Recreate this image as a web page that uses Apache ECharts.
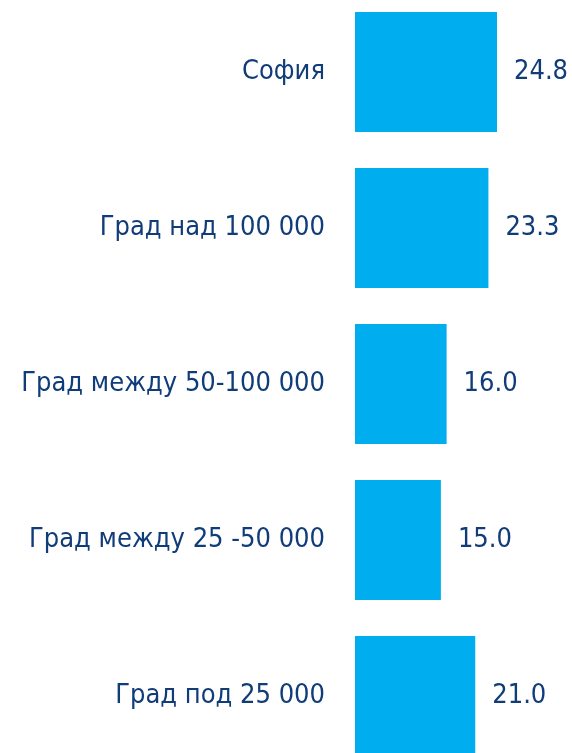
<!DOCTYPE html>
<html>
<head>
<meta charset="utf-8">
<script src="https://cdn.jsdelivr.net/npm/echarts@6/dist/echarts.min.js"></script>
<style>
	html,body{margin:0;padding:0;background:#fff;overflow:hidden;}
	#chart{position:absolute;left:0;top:-6px;width:572px;height:780px;}
</style>
</head>
<body>
<div id="chart"></div>
<script>
	var categories = ['София', 'Град над 100 000', 'Град между 50-100 000', 'Град между 25 -50 000', 'Град под 25 000'];
	var values = [24.8, 23.3, 16.0, 15.0, 21.0];

	var textColor = '#103c7a';
	var fontName = '"Liberation Sans Narrow", "DejaVu Sans Condensed", sans-serif';

	var mychart = echarts.init(document.getElementById('chart'));
	var option = {
		animation: false,
		grid: {
			left: 355,
			right: 75,
			top: 0,
			bottom: 0,
			outerBoundsMode: 'none',
			containLabel: false
		},
		xAxis: {
			type: 'value',
			min: 0,
			max: 24.8,
			show: false
		},
		yAxis: {
			type: 'category',
			inverse: true,
			data: categories,
			axisLine: {show: false},
			axisTick: {show: false},
			splitLine: {show: false},
			axisLabel: {
				margin: 30,
				color: textColor,
				fontFamily: fontName,
				fontSize: 27
			}
		},
		series: [{
			type: 'bar',
			data: values,
			barWidth: 120,
			itemStyle: {color: '#00aeef'},
			label: {
				show: true,
				position: 'right',
				distance: 17,
				color: textColor,
				fontFamily: fontName,
				fontSize: 27,
				formatter: function (p) {
					return p.value.toFixed(1);
				}
			}
		}]
	};
	mychart.setOption(option);
</script>
</body>
</html>
